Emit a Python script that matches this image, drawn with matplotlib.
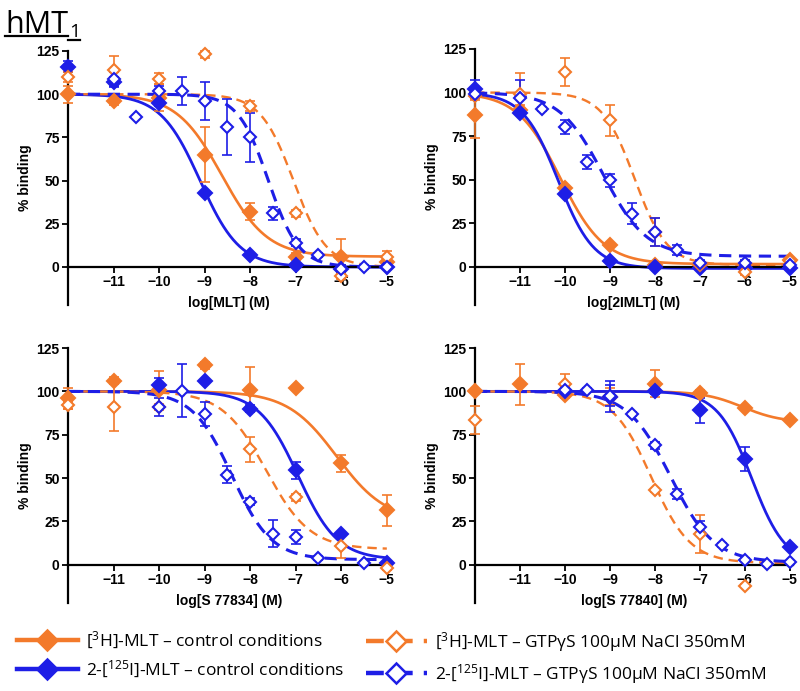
import matplotlib
matplotlib.use("Agg")
import numpy as np
import matplotlib.pyplot as plt
from matplotlib.lines import Line2D

plt.rcParams.update({
    "font.family": ["Liberation Sans", "DejaVu Sans"],
    "mathtext.fontset": "custom",
    "mathtext.rm": "Open Sans",
    "mathtext.it": "Open Sans:italic",
})

ORANGE = "#F37A2B"
BLUE = "#1E1EE6"

# ---------- data (log M, % binding, SEM) -------------------------------------
# panel A: MLT
mlt_h3_x = [-12, -11, -10, -9, -8, -7, -6, -5]
mlt_h3_y = [100, 96, 98, 65, 32, 6, 6, 3]
mlt_h3_e = [5, 2, 8, 16, 5, 2, 10, 2]
mlt_i_x = [-12, -11, -10, -9, -8, -7, -6, -5]
mlt_i_y = [116, 107, 95, 43, 7, 1, -1, 0]
mlt_i_e = [3, 3, 2, 1, 1, 1, 2, 1]
mlt_h3g_x = [-12, -11, -10, -9, -8, -7, -6, -5]
mlt_h3g_y = [110, 114, 109, 123, 93, 31, -5, 6]
mlt_h3g_e = [3, 8, 3, 2, 3, 2, 2, 3]
mlt_ig_x = [-11, -10.5, -10, -9.5, -9, -8.5, -8, -7.5, -7, -6.5, -6, -5.5, -5]
mlt_ig_y = [109, 87, 102, 102, 96, 81, 75, 31, 14, 7, -1, 0, 0]
mlt_ig_e = [4, 0, 3, 8, 11, 16, 14, 4, 2, 1, 2, 1, 1]
# fit parameters [h3 ctrl, 125I ctrl, h3 gtp, 125I gtp]
mlt_mid = [-8.62, -9.1, -7.05, -7.6]
mlt_hill = [0.87, 1.0, 1.2, 1.3]
mlt_bot = [6, 0, 0, 0]

# panel B: 2IMLT
imlt_h3_x = [-12, -11, -10, -9, -8, -7, -6, -5]
imlt_h3_y = [87, 90, 45, 12.5, 1, 1, 1, 4]
imlt_h3_e = [13, 3, 1, 1, 1, 1, 1, 1]
imlt_i_x = [-12, -11, -10, -9, -8, -7, -6, -5]
imlt_i_y = [102, 88.5, 41.5, 3, 0, -1, -1, -1]
imlt_i_e = [5, 1, 1, 1, 1, 1, 1, 1]
imlt_h3g_x = [-12, -11, -10, -9, -8, -7, -6, -5]
imlt_h3g_y = [98, 99, 112, 84, 20, 1, -3, 3]
imlt_h3g_e = [2, 12, 8, 9, 8, 2, 2, 2]
imlt_ig_x = [-12, -11, -10.5, -10, -9.5, -9, -8.5, -8, -7.5, -7, -6, -5]
imlt_ig_y = [99, 97, 90.5, 80, 60, 49.5, 30.5, 20, 9.5, 2, 2, 1]
imlt_ig_e = [2, 10, 1, 4, 4, 4, 6, 8, 3, 2, 2, 1]
imlt_mid = [-10.1, -10.15, -8.45, -9.15]
imlt_hill = [0.9, 1.1, 1.2, 0.9]
imlt_bot = [1.5, -1, 1, 6]

# panel C: S 77834
s834_h3_x = [-12, -11, -10, -9, -8, -7, -6, -5]
s834_h3_y = [96, 106, 101, 115, 101, 102, 58.5, 31.5]
s834_h3_e = [6, 2, 11, 2, 13, 0, 5, 9]
s834_i_x = [-10, -9, -8, -7, -6, -5]
s834_i_y = [103.5, 106, 90, 54.5, 17.5, 1]
s834_i_e = [4, 0, 2, 5, 0, 1]
s834_h3g_x = [-12, -11, -10, -8, -7, -6, -5]
s834_h3g_y = [92, 91, 91, 66.5, 39, 11, -2]
s834_h3g_e = [2, 14, 2, 7, 2, 7, 1]
s834_ig_x = [-10, -9.5, -9, -8.5, -8, -7.5, -7, -6.5, -5.5]
s834_ig_y = [91, 100.5, 87, 52, 36.5, 18, 16, 4, 1]
s834_ig_e = [5, 15, 7, 5, 2, 8, 4, 1, 1]
s834_mid = [-6.1, -6.95, -7.65, -8.4]
s834_hill = [0.8, 1.0, 0.9, 1.0]
s834_bot = [25, 3, 9, 3]

# panel D: S 77840
s840_h3_x = [-12, -11, -10, -9, -8, -7, -6, -5]
s840_h3_y = [100, 104, 98, 97, 104.5, 99, 90.5, 83.5]
s840_h3_e = [0, 12, 2, 5, 8, 2, 1, 1]
s840_i_x = [-10, -9, -8, -7, -6, -5]
s840_i_y = [100.5, 97, 100.5, 89, 61, 10.5]
s840_i_e = [2, 9, 2, 7, 7, 1]
s840_h3g_x = [-12, -10, -8, -7, -6]
s840_h3g_y = [83.5, 104, 43, 18, -12]
s840_h3g_e = [8, 6, 1, 11, 1]
s840_ig_x = [-10, -9.5, -9, -8.5, -8, -7.5, -7, -6.5, -6, -5.5, -5]
s840_ig_y = [101, 101, 97.5, 87, 69, 41, 22, 11.5, 3, 0.5, 1.5]
s840_ig_e = [1, 1, 6, 1, 2, 3, 3, 1, 1, 1, 1]
s840_mid = [-6.05, -5.85, -8.08, -7.65]
s840_hill = [1.0, 1.15, 1.0, 0.9]
s840_bot = [82, 0, 1, 1.5]

XTICKS = [-11, -10, -9, -8, -7, -6, -5]
YTICKS = [0, 25, 50, 75, 100, 125]

LABELS = [r"[$^{3}$H]-MLT – control conditions",
          r"2-[$^{125}$I]-MLT – control conditions",
          r"[$^{3}$H]-MLT – GTPγS 100μM NaCl 350mM",
          r"2-[$^{125}$I]-MLT – GTPγS 100μM NaCl 350mM"]

# ---------- figure ------------------------------------------------------------
fig = plt.figure(figsize=(8.0, 6.91), dpi=100)

W, H = 800, 691
def axes_px(left, right, top, bottom):
    return fig.add_axes([left / W, 1 - bottom / H, (right - left) / W, (bottom - top) / H])

STYLES = [  # colour, linestyle, lw, filled
    (ORANGE, "-", 1.9, True),
    (BLUE, "-", 2.0, True),
    (ORANGE, (0, (4, 2.5)), 1.7, False),
    (BLUE, (0, (4, 2.5)), 2.2, False),
]

def draw_panel(ax, series, mids, hills, bots, xlabel):
    xs = np.linspace(-12, -5, 300)
    for (x, y, e), mid, hill, bot, (col, ls, lw, filled) in zip(series, mids, hills, bots, STYLES):
        fit = bot + (100 - bot) / (1 + 10 ** (hill * (xs - mid)))
        ax.plot(xs, fit, color=col, ls=ls, lw=lw, zorder=2, clip_on=False)
        ax.errorbar(x, y, yerr=e, fmt="none", ecolor=col, elinewidth=1.2,
                    capsize=3.5, capthick=1.2, zorder=3, clip_on=False)
        ax.plot(x, y, ls="none", marker="D", ms=6.8 if filled else 6.3,
                mfc=col if filled else "white", mec=col, mew=1.5,
                zorder=4, clip_on=False)
    ax.set_xlim(-12, -4.93)
    ax.set_ylim(-22, 125)
    ax.spines["bottom"].set_position(("data", 0))
    ax.spines["top"].set_visible(False)
    ax.spines["right"].set_visible(False)
    for sp in ("left", "bottom"):
        ax.spines[sp].set_linewidth(1.6)
    ax.set_xticks(XTICKS)
    ax.set_yticks(YTICKS)
    ax.tick_params(direction="out", length=4, width=1.3, pad=2, labelsize=10)
    for lab in ax.get_xticklabels() + ax.get_yticklabels():
        lab.set_fontweight("bold")
    ax.set_ylabel("% binding", fontsize=10, fontweight="bold", labelpad=3)
    ax.set_xlabel(xlabel, fontsize=10, fontweight="bold")
    ax.xaxis.set_label_coords(0.5, -0.018)
    ax.xaxis.label.set_verticalalignment("bottom")
    ax.patch.set_alpha(0)

ax1 = axes_px(68, 390, 51, 305)
ax2 = axes_px(475, 793, 49, 305)
ax3 = axes_px(68, 390, 348, 603)
ax4 = axes_px(475, 793, 348, 603)

draw_panel(ax1, [(mlt_h3_x, mlt_h3_y, mlt_h3_e), (mlt_i_x, mlt_i_y, mlt_i_e),
                 (mlt_h3g_x, mlt_h3g_y, mlt_h3g_e), (mlt_ig_x, mlt_ig_y, mlt_ig_e)],
           mlt_mid, mlt_hill, mlt_bot, "log[MLT] (M)")
draw_panel(ax2, [(imlt_h3_x, imlt_h3_y, imlt_h3_e), (imlt_i_x, imlt_i_y, imlt_i_e),
                 (imlt_h3g_x, imlt_h3g_y, imlt_h3g_e), (imlt_ig_x, imlt_ig_y, imlt_ig_e)],
           imlt_mid, imlt_hill, imlt_bot, "log[2IMLT] (M)")
draw_panel(ax3, [(s834_h3_x, s834_h3_y, s834_h3_e), (s834_i_x, s834_i_y, s834_i_e),
                 (s834_h3g_x, s834_h3g_y, s834_h3g_e), (s834_ig_x, s834_ig_y, s834_ig_e)],
           s834_mid, s834_hill, s834_bot, "log[S 77834] (M)")
draw_panel(ax4, [(s840_h3_x, s840_h3_y, s840_h3_e), (s840_i_x, s840_i_y, s840_i_e),
                 (s840_h3g_x, s840_h3g_y, s840_h3g_e), (s840_ig_x, s840_ig_y, s840_ig_e)],
           s840_mid, s840_hill, s840_bot, "log[S 77840] (M)")

# ---------- title (underlined hMT1) ------------------------------------------
fig.text(5 / W, 1 - 33 / H, "hMT", fontsize=22, family="Open Sans", va="baseline")
fig.text(69 / W, 1 - 37 / H, "1", fontsize=14, family="Open Sans", va="baseline")
fig.add_artist(Line2D([5 / W, 68 / W], [1 - 35.5 / H, 1 - 35.5 / H], color="black", lw=1.6))
fig.add_artist(Line2D([68 / W, 80 / W], [1 - 39.5 / H, 1 - 39.5 / H], color="black", lw=1.6))

# ---------- legend ------------------------------------------------------------
handles = [Line2D([], [], color=c, ls=ls, lw=3.2, marker="D", ms=10,
                  mfc=c if filled else "white", mec=c, mew=1.8)
           for c, ls, lw, filled in STYLES]
leg_kw = dict(frameon=False, loc="upper left", handlelength=3.5,
              handletextpad=0.45, labelspacing=0.45, borderpad=0, borderaxespad=0,
              prop={"family": "Open Sans", "size": 12.5})
fig.legend(handles[:2], LABELS[:2], bbox_to_anchor=(17 / W, 1 - 630 / H), **leg_kw)
fig.legend(handles[2:], LABELS[2:], bbox_to_anchor=(366 / W, 1 - 630 / H), **leg_kw)

fig.savefig("out.png", dpi=100)
